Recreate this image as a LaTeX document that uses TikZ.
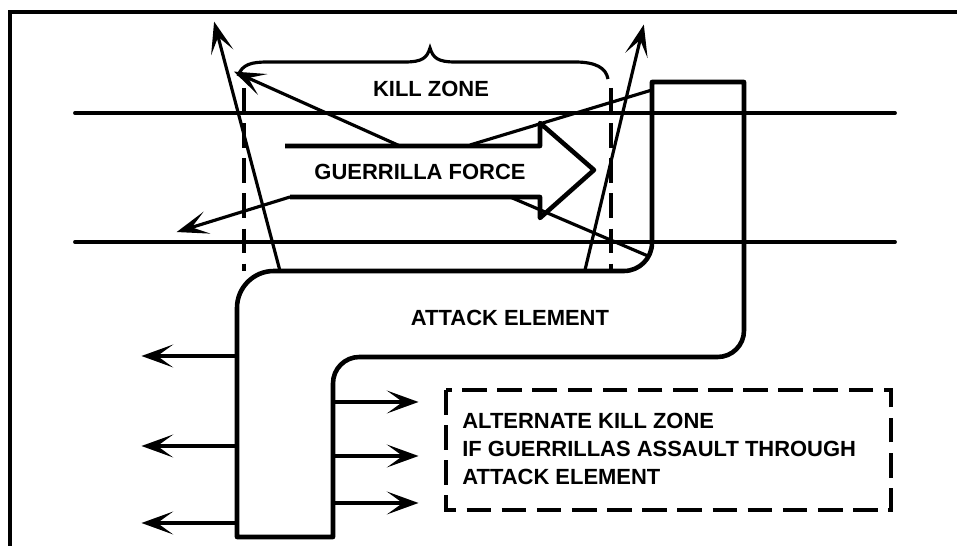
\documentclass[tikz,border=0pt]{standalone}
\usepackage{fontspec}
\setmainfont{Liberation Sans}
\usetikzlibrary{arrows.meta}

\begin{document}
\begin{tikzpicture}[
    x=0.02cm, y=-0.02cm,
    >={Stealth[length=18pt, width=13pt, inset=9pt]},
    label/.style={font=\bfseries\fontsize{12.5}{16}\selectfont, inner sep=0pt},
    frame/.style={line width=2pt},
    road/.style={line width=2.2pt, line cap=round},
    outline/.style={line width=2.6pt, line join=round},
    fire/.style={->, line width=1.8pt, shorten >=-2pt},
    sight/.style={line width=1.8pt},
    zone/.style={line width=2.2pt, dash pattern=on 14pt off 6pt}
]
\useasboundingbox (0,0) rectangle (957,546);

% Frame and road
\draw[frame] (10,546) -- (10,12) -- (957,12);
\draw[road] (75,113) -- (895,113);
\draw[road] (75,242) -- (895,242);

% Attack element (L-shaped)
\draw[outline] (285,537) -- (237,537)
    [rounded corners=21pt] -- (237,271)
    [rounded corners=16pt] -- (652,271)
    [sharp corners] -- (652,82) -- (744,82)
    [rounded corners=15pt] -- (744,357) -- (333,357)
    [sharp corners] -- (333,537) -- cycle;

% Guerrilla force (hollow arrow)
\draw[outline] (285,146) -- (540,146) -- (540,123) -- (594,170)
    -- (540,218) -- (540,197) -- (290,197);

% Kill zone limits and brace
\draw[zone] (244,88) -- (244,271);
\draw[zone] (611,88) -- (611,271);
\draw[sight] (238,76) .. controls (242,64) and (252,62) .. (268,62)
    -- (405,62) .. controls (422,62) and (427,58) .. (430,48)
    .. controls (433,58) and (438,62) .. (455,62)
    -- (575,62) .. controls (596,62) and (606,68) .. (608,79);

% Labels
\node[label] (killlabel) at (431,89) {KILL ZONE};
\node[label] (forcelabel) at (420,172) {GUERRILLA FORCE};
\node[label] (attacklabel) at (510,318) {ATTACK ELEMENT};
\node[label, align=left, anchor=west] (altlabel) at (462,449)
    {ALTERNATE KILL ZONE\\IF GUERRILLAS ASSAULT THROUGH\\ATTACK ELEMENT};
\draw[zone] (446,390) rectangle (891,510);

% Fire of the guerrilla force
\coordinate (gtop) at (400,146);
\coordinate (gbot) at (290,197);
\coordinate (gtopend) at (237,73);
\coordinate (gbotend) at (180,231);
\draw[fire] (gtop) -- (gtopend);
\draw[fire] (gbot) -- (gbotend);

% Fire of the attack element
\coordinate (aleft) at (280,271);
\coordinate (aright) at (585,270);
\coordinate (aleftend) at (215,25);
\coordinate (arightend) at (643,28);
\draw[fire] (aleft) -- (aleftend);
\draw[fire] (aright) -- (arightend);
\coordinate (ahigh) at (652,90);
\coordinate (alow) at (648,256);
\draw[sight] (ahigh) -- (470,145);
\draw[sight] (alow) -- (510,197);

% Security fire from the stem
\foreach \y [count=\i] in {356,446,523} {
    \coordinate (west\i) at (237,\y);
    \coordinate (westend\i) at (145,\y);
    \draw[fire] (west\i) -- (westend\i);
}
\foreach \y [count=\i] in {402,456,503} {
    \coordinate (east\i) at (333,\y);
    \coordinate (eastend\i) at (415,\y);
    \draw[fire] (east\i) -- (eastend\i);
}

\end{tikzpicture}
\end{document}
